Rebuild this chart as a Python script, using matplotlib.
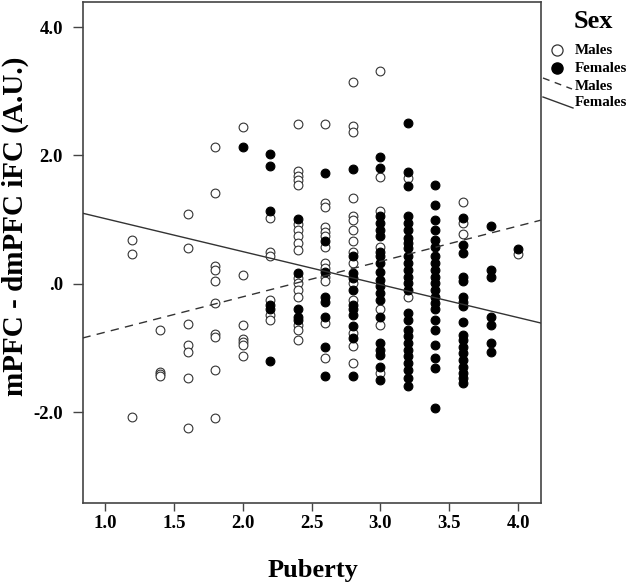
import numpy as np
import matplotlib
matplotlib.use("Agg")
import matplotlib.pyplot as plt
from matplotlib.lines import Line2D

plt.rcParams['font.family'] = ['Liberation Serif', 'DejaVu Serif']
plt.rcParams['font.weight'] = 'bold'

# open circles = males, one puberty level per line
male_puberty = ([1.2] * 3 + [1.4] * 4 + [1.6] * 7 + [1.8] * 10 + [2.0] * 7 + [2.2] * 6
                + [2.4] * 17 + [2.6] * 13 + [2.8] * 15 + [3.0] * 7 + [3.2] * 2
                + [3.6] * 3 + [4.0] * 1)
male_ifc = [0.69, 0.47, -2.08,
            -0.72, -1.37, -1.40, -1.43,
            1.09, 0.55, -0.62, -0.95, -1.06, -1.46, -2.24,
            2.13, 1.41, 0.27, 0.21, 0.05, -0.30, -0.78, -0.83, -1.35, -2.09,
            2.45, 0.14, -0.64, -0.86, -0.91, -0.96, -1.12,
            1.02, 0.49, 0.43, -0.25, -0.48, -0.56,
            2.49, 1.75, 1.68, 1.62, 1.54, 0.93, 0.84, 0.74, 0.63, 0.53, 0.09, 0.01, -0.09, -0.20, -0.64, -0.72, -0.88,
            2.49, 1.26, 1.19, 0.89, 0.81, 0.74, 0.58, 0.32, 0.24, 0.11, 0.04, -0.61, -1.15,
            3.14, 2.46, 2.36, 1.33, 1.05, 0.99, 0.84, 0.67, 0.50, 0.32, 0.01, -0.25, -0.77, -0.97, -1.24,
            3.31, 1.67, 1.13, 0.58, -0.39, -0.64, -1.39,
            1.65, -0.21,
            1.28, 0.95, 0.78,
            0.46]

# filled circles = females
female_puberty = ([2.0] * 1 + [2.2] * 6 + [2.4] * 5 + [2.6] * 8 + [2.8] * 11 + [3.0] * 20
                  + [3.2] * 26 + [3.4] * 21 + [3.6] * 18 + [3.8] * 7 + [4.0] * 1)
female_ifc = [2.13,
              2.02, 1.84, 1.14, -0.33, -0.40, -1.21,
              1.01, 0.17, -0.40, -0.51, -0.56,
              1.73, 0.66, 0.18, -0.20, -0.28, -0.51, -0.98, -1.43,
              1.79, 0.43, 0.17, 0.09, -0.09, -0.33, -0.40, -0.48, -0.66, -0.85, -1.44,
              1.98, 1.80, 1.05, 0.95, 0.84, 0.74, 0.50, 0.43, 0.32, 0.19, 0.06, -0.04, -0.15, -0.25, -0.51,
              -0.92, -1.03, -1.11, -1.29, -1.50,
              2.51, 1.74, 1.53, 1.05, 0.95, 0.84, 0.71, 0.63, 0.56, 0.43, 0.32, 0.22, 0.11, 0.01, -0.09,
              -0.46, -0.56, -0.72, -0.82, -0.92, -1.03, -1.13, -1.24, -1.34, -1.47, -1.60,
              1.54, 1.23, 1.00, 0.84, 0.69, 0.58, 0.43, 0.32, 0.22, 0.11, 0.01, -0.09, -0.20, -0.30, -0.40,
              -0.56, -0.72, -0.95, -1.16, -1.31, -1.94,
              1.02, 0.61, 0.48, 0.11, 0.04, -0.20, -0.28, -0.35, -0.60, -0.79, -0.87, -0.98, -1.08, -1.18,
              -1.29, -1.39, -1.47, -1.54,
              0.90, 0.22, 0.10, -0.51, -0.64, -0.92, -1.07,
              0.54]

# fit lines, values at the x-axis limits
fit_x = [0.837, 4.163]
male_fit = [-0.845, 0.99]
female_fit = [1.10, -0.61]

x_ticks = [1.0, 1.5, 2.0, 2.5, 3.0, 3.5, 4.0]
y_ticks = [4.0, 2.0, 0.0, -2.0]
y_ticklabels = ['4.0', '2.0', '.0', '-2.0']

W, H = 630, 582
fig = plt.figure(figsize=(W / 100, H / 100), dpi=100)
ax = fig.add_axes([82.5 / W, 1 - 503 / H, 458 / W, 501 / H])

ink = '#333333'
ax.scatter(male_puberty, male_ifc, s=40, facecolor='white', edgecolor=ink, linewidth=0.8, zorder=3)
ax.scatter(female_puberty, female_ifc, s=40, facecolor='black', edgecolor='black', linewidth=0.8, zorder=4)

ax.plot(fit_x, female_fit, color=ink, lw=1.0, zorder=5)
ax.plot(fit_x, male_fit, color=ink, lw=1.0, dashes=(6, 4.5), zorder=5)

ax.set_xlim(fit_x)
ax.set_ylim(-3.415, 4.39)
ax.set_xticks(x_ticks)
ax.set_xticklabels([f'{t:.1f}' for t in x_ticks])
ax.set_yticks(y_ticks)
ax.set_yticklabels(y_ticklabels)
ax.tick_params(axis='x', direction='out', length=6, width=1, color='#444444', pad=3, labelsize=13.5)
ax.tick_params(axis='y', direction='out', length=7, width=1, color='#444444', pad=7, labelsize=13.5)
for sp in ax.spines.values():
    sp.set_color('#444444')
    sp.set_linewidth(1.2)

fig.text(313 / W, 1 - 571 / H, 'Puberty', ha='center', va='center', fontsize=19, fontweight='bold')
fig.text(15 / W, 1 - 226 / H, 'mPFC - dmPFC iFC (A.U.)', ha='center', va='center',
         rotation=90, fontsize=21, fontweight='bold')

# legend drawn in pixel positions to the right of the plot
def fx(px):
    return px / W

def fy(py):
    return 1 - py / H

fig.text(fx(593), fy(21), 'Sex', ha='center', va='center', fontsize=19, fontweight='bold')
fig.add_artist(Line2D([fx(557)], [fy(50)], marker='o', ms=8, mfc='white', mec=ink, mew=0.9,
                      ls='none', transform=fig.transFigure))
fig.add_artist(Line2D([fx(557)], [fy(68)], marker='o', ms=8, mfc='black', mec='black',
                      ls='none', transform=fig.transFigure))
fig.add_artist(Line2D([fx(543), fx(572)], [fy(78), fy(89)], color=ink, lw=1.0, dashes=(5, 4),
                      transform=fig.transFigure))
fig.add_artist(Line2D([fx(543), fx(573)], [fy(97), fy(108)], color=ink, lw=1.0,
                      transform=fig.transFigure))
for py, lab in [(50, 'Males'), (68, 'Females'), (86, 'Males'), (103, 'Females')]:
    fig.text(fx(575), fy(py), lab, ha='left', va='center', fontsize=10.8, fontweight='bold')

fig.savefig('out.png', dpi=100)
